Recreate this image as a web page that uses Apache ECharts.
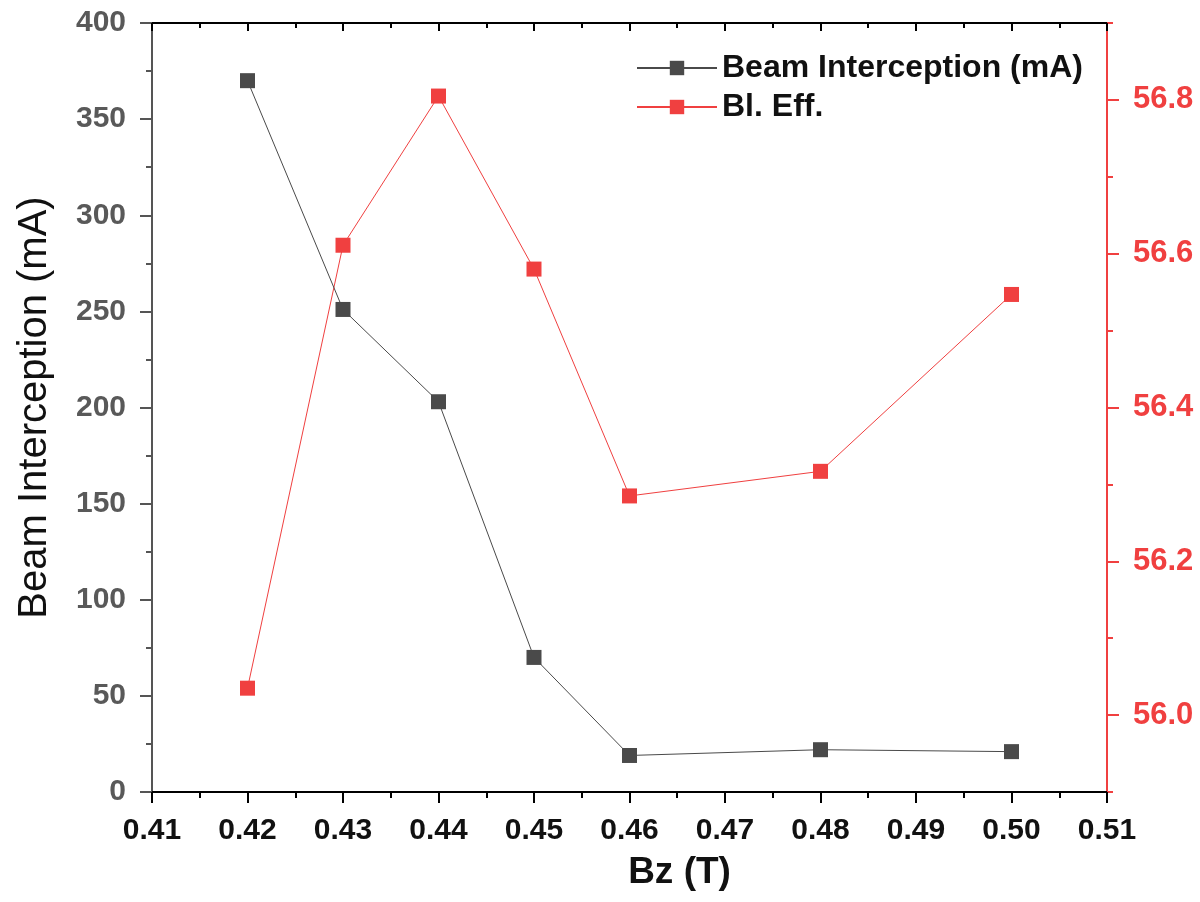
<!DOCTYPE html>
<html>
<head>
<meta charset="utf-8">
<script src="https://cdn.jsdelivr.net/npm/echarts@6/dist/echarts.min.js"></script>
<style>
html,body{margin:0;padding:0;background:#fff;}
#c{width:1200px;height:902px;}
</style>
</head>
<body>
<div id="c"></div>
<script>
const bz = [0.42, 0.43, 0.44, 0.45, 0.46, 0.48, 0.50];
const beamInterception = [370, 251, 203, 70, 19, 22, 21];
const blEff = [56.035, 56.611, 56.805, 56.58, 56.285, 56.317, 56.547];
const seriesNames = ['Beam Interception (mA)', 'Bl. Eff.'];
const rightMajorTicks = [56.0, 56.2, 56.4, 56.6, 56.8];

const black = '#4a4a4a';
const red = '#f04040';
const grayAxis = '#555555';
const font = 'Liberation Sans, Arial, sans-serif';

const chart = echarts.init(document.getElementById('c'), null, {renderer: 'canvas'});
chart.setOption({
  animation: false,
  backgroundColor: '#ffffff',
  grid: {left: 152, right: 93, top: 23, bottom: 110, containLabel: false},
  legend: {
    orient: 'vertical',
    left: 631,
    top: 46,
    itemWidth: 80,
    itemHeight: 18,
    itemGap: 5,
    textStyle: {fontFamily: font, fontSize: 32, fontWeight: 'bold', color: '#111', lineHeight: 34},
    data: seriesNames
  },
  xAxis: [{
    type: 'value',
    min: 0.41, max: 0.51, interval: 0.01,
    position: 'bottom',
    name: 'Bz (T)',
    nameLocation: 'middle',
    nameGap: 62,
    nameTextStyle: {fontFamily: font, fontSize: 37, fontWeight: 'bold', color: '#111', padding: [0, 0, 0, 100]},
    axisLine: {show: true, onZero: false, lineStyle: {color: '#000', width: 2}},
    axisTick: {show: true, inside: false, length: 11, lineStyle: {color: '#000', width: 2}},
    minorTick: {show: true, splitNumber: 2, length: 6, lineStyle: {color: '#000', width: 2}},
    axisLabel: {fontFamily: font, fontSize: 30, fontWeight: 'bold', color: '#111', margin: 24,
      formatter: v => v.toFixed(2)},
    splitLine: {show: false}
  }, {
    type: 'value',
    min: 0.41, max: 0.51, interval: 0.01,
    position: 'top',
    axisLine: {show: true, onZero: false, lineStyle: {color: '#000', width: 2}},
    axisTick: {show: true, inside: true, length: 8, lineStyle: {color: '#000', width: 2}},
    minorTick: {show: true, splitNumber: 2, length: 5, lineStyle: {color: '#000', width: 2}},
    axisLabel: {show: false},
    splitLine: {show: false}
  }],
  yAxis: [{
    type: 'value',
    min: 0, max: 400, interval: 50,
    position: 'left',
    name: 'Beam Interception (mA)',
    nameLocation: 'middle',
    nameGap: 97,
    nameTextStyle: {fontFamily: font, fontSize: 40, color: '#111'},
    axisLine: {show: true, onZero: false, lineStyle: {color: grayAxis, width: 2}},
    axisTick: {show: true, inside: false, length: 12, lineStyle: {color: grayAxis, width: 2}},
    minorTick: {show: true, splitNumber: 2, length: 6, lineStyle: {color: grayAxis, width: 2}},
    axisLabel: {fontFamily: font, fontSize: 30, fontWeight: 'bold', color: '#595959', margin: 26},
    splitLine: {show: false}
  }, {
    type: 'value',
    min: 55.9, max: 56.9, interval: 0.1,
    position: 'right',
    axisLine: {show: true, onZero: false, lineStyle: {color: red, width: 2}},
    axisTick: {show: true, inside: false, length: 6, lineStyle: {color: red, width: 2}},
    axisLabel: {show: false},
    splitLine: {show: false}
  }, {
    type: 'value',
    min: 55.9, max: 56.9, interval: 0.1,
    position: 'right',
    axisLine: {show: false},
    axisTick: {show: true, inside: false, length: 12, customValues: rightMajorTicks, lineStyle: {color: red, width: 2}},
    axisLabel: {fontFamily: font, fontSize: 31, fontWeight: 'bold', color: red, margin: 26,
      customValues: rightMajorTicks,
      formatter: v => v.toFixed(1)},
    splitLine: {show: false}
  }],
  series: [{
    name: seriesNames[0],
    type: 'line',
    xAxisIndex: 0,
    yAxisIndex: 0,
    data: bz.map((x, i) => [x, beamInterception[i]]),
    symbol: 'rect',
    symbolSize: 15,
    itemStyle: {color: black},
    lineStyle: {color: black, width: 1},
    z: 3
  }, {
    name: seriesNames[1],
    type: 'line',
    xAxisIndex: 0,
    yAxisIndex: 1,
    data: bz.map((x, i) => [x, blEff[i]]),
    symbol: 'rect',
    symbolSize: 15,
    itemStyle: {color: red},
    lineStyle: {color: red, width: 1},
    z: 2
  }]
});
</script>
</body>
</html>
